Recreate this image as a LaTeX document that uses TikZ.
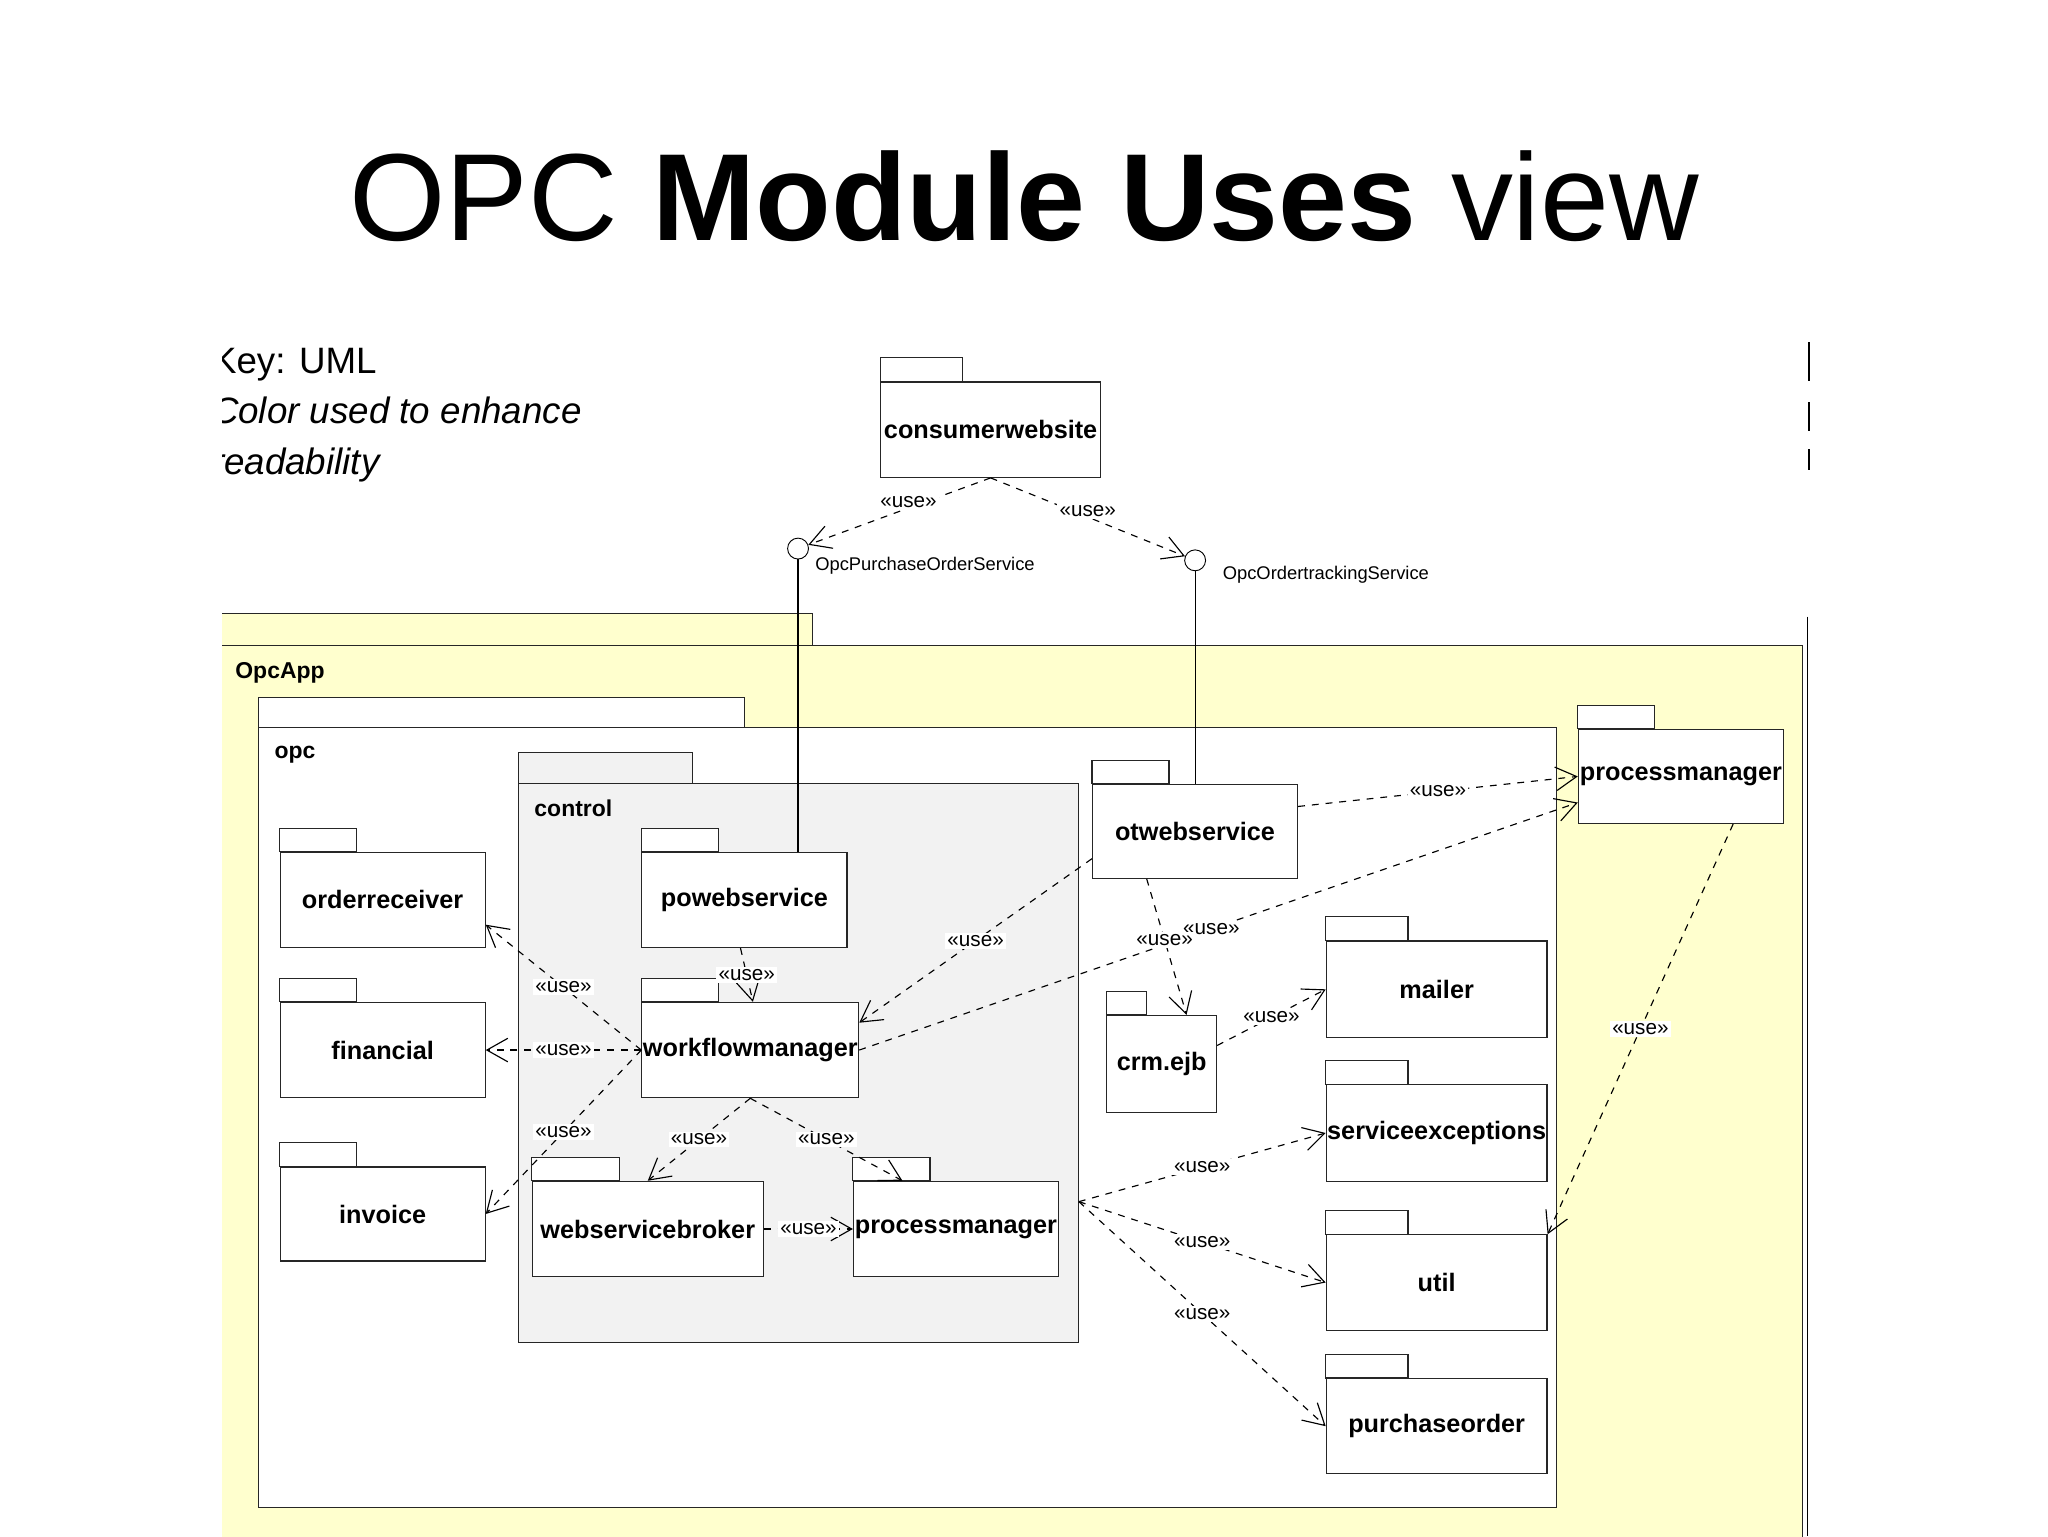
\documentclass[tikz,border=0pt]{standalone}
\usepackage{fontspec}
\setmainfont{Liberation Sans}
\usetikzlibrary{positioning,arrows.meta}
\definecolor{appyellow}{RGB}{255,255,206}
\definecolor{ctlgray}{RGB}{242,242,242}
\tikzset{
  pkgline/.style={draw=black!85,line width=0.5pt,fill=white},
  pkg/.style={pkgline,inner sep=0pt,font=\bfseries\fontsize{11}{13}\selectfont},
  iface/.style={circle,draw,fill=white,minimum size=3.2mm,inner sep=0pt},
  use/.style={dashed,line width=0.5pt,-{Straight Barb[length=3.2mm,width=3.6mm]}},
  uselbl/.style={fill=white,inner sep=1pt,font=\fontsize{9}{10}\selectfont},
}
\newcommand\umlpkg[7]{%
  \draw[pkgline] (#2,#3) rectangle ++(#6,-18);
  \node[pkg,minimum width=#4*0.2mm,minimum height=#5*0.2mm,anchor=north west] (#1) at (#2,#3) {#7};}
\begin{document}
\begin{tikzpicture}[x=0.2mm,y=-0.2mm]
  \useasboundingbox[fill=white] (0,0) rectangle (1568,1176);
  \node[font=\fontsize{54}{60}\selectfont] (title) at (784,150) {OPC \textbf{Module Uses} view};
  \begin{scope}
    \clip (170,0) rectangle (1385,1176);
    % key
    \node[anchor=north west,align=left,font=\fontsize{16}{22}\selectfont,inner sep=0pt] (key) at (162,266)
      {Key: UML\\\textit{Color used to enhance}\\\textit{readability}};
    % outer app package
    \draw[pkgline,fill=appyellow] (100,470) rectangle (622,494);
    \draw[pkgline,fill=appyellow] (100,494) rectangle (1380,1200);
    \node[anchor=west,font=\bfseries\fontsize{10}{12}\selectfont] (app) at (174,515) {OpcApp};
    % opc
    \draw[pkgline] (198,534) rectangle (570,557);
    \draw[pkgline] (198,557) rectangle (1192,1154);
    \node[anchor=west,font=\bfseries\fontsize{10}{12}\selectfont] (opc) at (204,578) {opc};
    % control
    \draw[pkgline,fill=ctlgray] (397,576) rectangle (530,600);
    \draw[pkgline,fill=ctlgray] (397,600) rectangle (826,1028);
    \node[anchor=west,font=\bfseries\fontsize{10}{12}\selectfont] (control) at (403,619) {control};
    \coordinate (ctl) at (826,920);
  \end{scope}
  \draw[line width=0.5pt] (1385,262) -- (1385,292) (1385,308) -- (1385,330) (1385,344) -- (1385,360)
    (1384,472) -- (1384,1176);

  \umlpkg{cw}{674}{292}{168}{73}{63}{consumerwebsite}
  \umlpkg{orec}{214}{652}{157}{73}{59}{orderreceiver}
  \umlpkg{fin}{214}{767}{157}{73}{59}{financial}
  \umlpkg{inv}{214}{893}{157}{72}{59}{invoice}
  \umlpkg{poweb}{491}{652}{157}{73}{59}{powebservice}
  \umlpkg{wfm}{491}{767}{166}{73}{59}{workflowmanager}
  \umlpkg{wsb}{407}{904}{177}{73}{67}{webservicebroker}
  \umlpkg{pmc}{653}{904}{157}{73}{59}{processmanager}
  \umlpkg{otweb}{836}{600}{157}{72}{59}{otwebservice}
  \umlpkg{crm}{847}{777}{84}{74}{31}{crm.ejb}
  \umlpkg{mailer}{1015}{720}{169}{74}{63}{mailer}
  \umlpkg{serv}{1015}{830}{169}{74}{63}{serviceexceptions}
  \umlpkg{util}{1015}{945}{169}{73}{63}{util}
  \umlpkg{po}{1015}{1055}{169}{73}{63}{purchaseorder}
  \umlpkg{pmr}{1208}{558}{157}{72}{59}{processmanager}

  % provided interfaces
  \node[iface] (ipo) at (611,420) {};
  \node[iface] (iot) at (915,429) {};
  \node[anchor=west,font=\fontsize{8}{9}\selectfont] (ipolbl) at (618,433) {OpcPurchaseOrderService};
  \node[anchor=west,font=\fontsize{8}{9}\selectfont] (iotlbl) at (930,440) {OpcOrdertrackingService};
  \draw[line width=0.5pt] (ipo) -- (ipo |- poweb.north);
  \draw[line width=0.5pt] (iot) -- (iot |- otweb.north);

  % uses
  \draw[use] (cw.south) -- node[uselbl,pos=0.45,above=-1pt] {<<use>>} (ipo);
  \draw[use] (cw.south) -- node[uselbl,pos=0.5,above=-1pt] {<<use>>} (iot);
  \draw[use] ([yshift=3.8mm]otweb.east) -- node[uselbl] {<<use>>} (pmr.west);
  \draw[use] (wfm.east) -- node[uselbl,pos=0.49] {<<use>>} ([yshift=-4mm]pmr.west);
  \draw[use] ([yshift=-4.2mm]otweb.west) -- node[uselbl] {<<use>>} ([yshift=-3.2mm]wfm.north east);
  \draw[use] ([xshift=-7.4mm]otweb.south) -- node[uselbl,pos=0.45] {<<use>>} ([xshift=3.8mm]crm.north);
  \draw[use] ([yshift=2.8mm]crm.east) -- node[uselbl] {<<use>>} (mailer.west);
  \draw[use] (wfm.west) -- node[uselbl] {<<use>>} ([yshift=-3.8mm]orec.east);
  \draw[use] (wfm.west) -- node[uselbl] {<<use>>} (fin.east);
  \draw[use] (wfm.west) -- node[uselbl] {<<use>>} (inv.east);
  \draw[use] ([xshift=-0.6mm]poweb.south) -- node[uselbl] {<<use>>} ([xshift=0.4mm]wfm.north);
  \draw[use] (wfm.south) -- node[uselbl] {<<use>>} (wsb.north);
  \draw[use] (wfm.south) -- node[uselbl] {<<use>>} ([xshift=-8.2mm]pmc.north);
  \draw[use] (wsb.east) -- node[uselbl] {<<use>>} (pmc.west);
  \draw[use] (ctl) -- node[uselbl] {<<use>>} (serv.west);
  \draw[use] (ctl) -- node[uselbl] {<<use>>} (util.west);
  \draw[use] (ctl) -- node[uselbl] {<<use>>} (po.west);
  \draw[use] ([xshift=8mm]pmr.south) -- node[uselbl] {<<use>>} (util.north east);
\end{tikzpicture}
\end{document}
